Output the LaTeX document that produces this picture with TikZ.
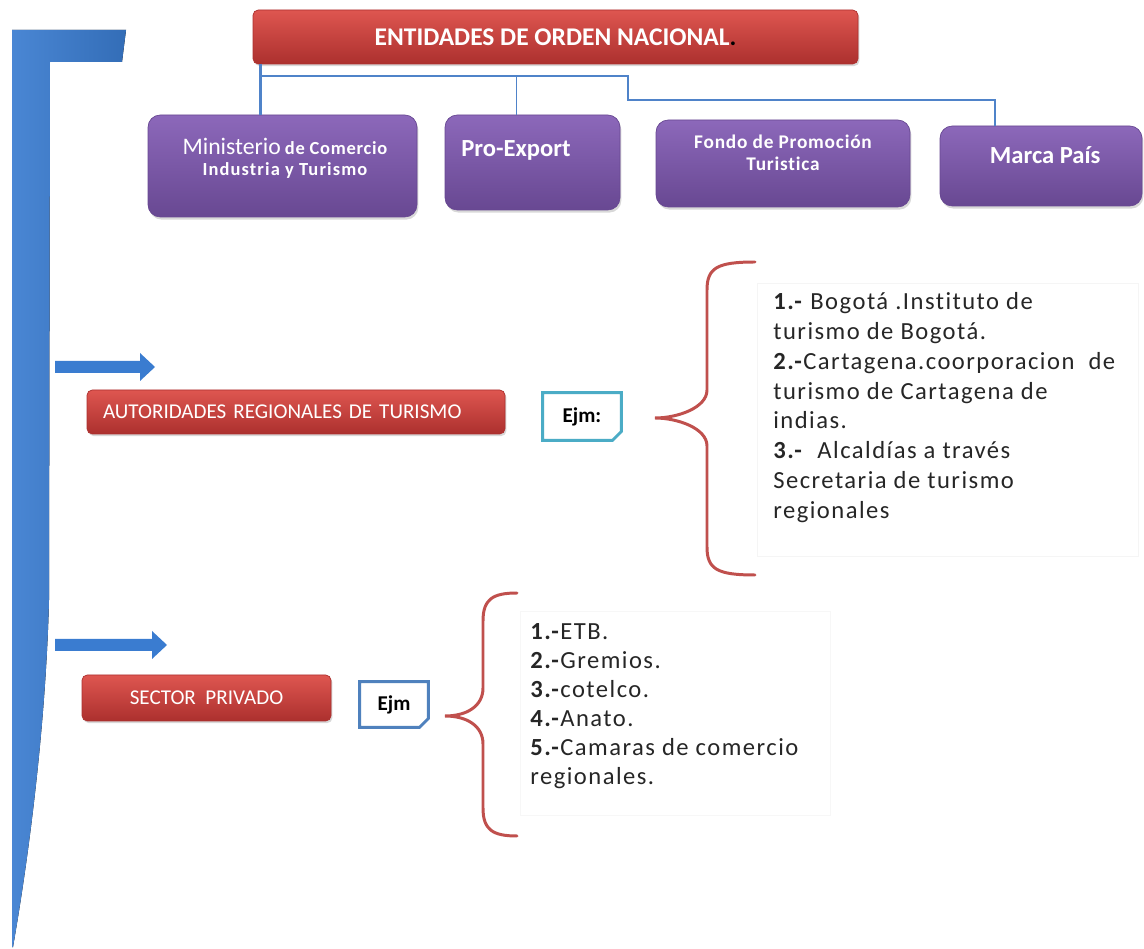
\documentclass[tikz,border=0pt]{standalone}
\usepackage{fontspec}
\setmainfont{Carlito}[Ligatures=NoCommon]
\newfontfamily\widefont[LetterSpace=6, Ligatures=NoCommon]{Carlito}
\newfontfamily\midfont[LetterSpace=4, Ligatures=NoCommon]{Carlito}
\usepackage{tikz}
\usetikzlibrary{calc, shadows}
\definecolor{barblue}{RGB}{58,124,208}
\definecolor{redtop}{RGB}{222,86,80}
\definecolor{redbot}{RGB}{172,48,46}
\definecolor{purtop}{RGB}{140,104,186}
\definecolor{purbot}{RGB}{104,72,146}
\definecolor{connblue}{RGB}{79,131,201}
\definecolor{bracered}{RGB}{192,80,77}
\definecolor{ejmcyan}{RGB}{75,172,198}
\definecolor{ejmblue}{RGB}{79,129,189}
\newcommand{\pxu}{0.02cm}

\begin{document}
\begin{tikzpicture}[x=0.02cm, y=-0.02cm,
  redbox/.style={rounded corners=3pt, top color=redtop, bottom color=redbot, draw=redbot, inner sep=0pt, text=white,
    drop shadow={opacity=0.3, shadow xshift=0.8pt, shadow yshift=-1.2pt}},
  purplebox/.style={rounded corners=7pt, top color=purtop, bottom color=purbot, draw=purbot, inner sep=0pt,
    drop shadow={opacity=0.3, shadow xshift=0.8pt, shadow yshift=-1.5pt}},
  purpletext/.style={text=white, font=\bfseries, align=center, inner sep=0pt},
  conn/.style={draw=connblue, line width=1.7pt},
  brace/.style={draw=bracered, line width=1.7pt, line cap=round},
  ejmline/.style={line width=1.6pt},
  listtext/.style={align=left, inner sep=0pt, anchor=north west, text=black!85}]
\useasboundingbox[fill=white] (0,0) rectangle (1144,949);

\fill[left color=barblue!92!white, right color=barblue!88!black] (12,30) -- (126,30) -- (122,62) -- (50,62) -- (49,600)
  .. controls (46,720) and (30,850) .. (13,947) -- (12,947) -- cycle;
\foreach \y/\xe in {367/155, 645/167}
  \fill[barblue] (55,\y-6) -- (\xe-15,\y-6) -- (\xe-15,\y-14) -- (\xe,\y) -- (\xe-15,\y+14) -- (\xe-15,\y+6) -- (55,\y+6) -- cycle;

\node[redbox, minimum width=605*\pxu, minimum height=54*\pxu, font=\bfseries\fontsize{14.5}{16}\selectfont] (orden) at (555.5,37)
  {ENTIDADES DE ORDEN NACIONAL\textcolor{black}{.}};

\node[purplebox, minimum width=269*\pxu, minimum height=102*\pxu] (mincit) at (282.5,166) {};
\node[purpletext] (mincit-t) at ([xshift=1.4pt, yshift=4.5pt]mincit.center)
  {{\mdseries\fontsize{13.5}{14}\selectfont Ministerio} {\midfont\fontsize{10.5}{13.6}\selectfont de Comercio}\\
   \widefont\fontsize{10.5}{13.6}\selectfont Industria y Turismo};
\node[purplebox, minimum width=175*\pxu, minimum height=95*\pxu] (proexp) at (532.5,162.5) {};
\node[purpletext, font=\bfseries\fontsize{14}{16}\selectfont] (proexp-t) at ([xshift=-9.4pt, yshift=7pt]proexp.center) {Pro-Export};
\node[purplebox, minimum width=254*\pxu, minimum height=87*\pxu] (fondo) at (783,163.5) {};
\node[purpletext, font=\midfont\bfseries\fontsize{11}{12.5}\selectfont] (fondo-t) at ([yshift=5.9pt]fondo.center) {Fondo de Promoción\\ Turistica};
\node[purplebox, minimum width=202*\pxu, minimum height=80*\pxu] (marca) at (1041,166) {};
\node[purpletext, font=\bfseries\fontsize{14}{16}\selectfont] (marca-t) at ([xshift=2.4pt, yshift=6.2pt]marca.center) {Marca País};

\coordinate (j0) at ($(orden.south west)+(8,0)$);
\draw[conn] (j0) -- (j0 |- mincit.north);
\draw[conn] (j0 |- 0,76) -- (628,76) -- (628,100) -| ($(marca.north)+(-46,0)$);
\draw[conn, line width=1pt] ($(proexp.north)+(-16,0)$) -- ++(0,-39);

\node[redbox, minimum width=418*\pxu, minimum height=44*\pxu, text width=386*\pxu, align=left,
  font=\fontsize{12}{13}\selectfont] (autoridades) at (296,412) {AUTORIDADES REGIONALES DE TURISMO};
\node[redbox, minimum width=249*\pxu, minimum height=46*\pxu, font=\fontsize{12}{13}\selectfont] (privado) at (206.5,698)
  {SECTOR\ \ PRIVADO};

\node[minimum width=78*\pxu, minimum height=47*\pxu, inner sep=0pt, font=\bfseries\fontsize{12}{14}\selectfont] (ejm1) at (582,416.5) {Ejm:};
\node[minimum width=68*\pxu, minimum height=45*\pxu, inner sep=0pt, font=\bfseries\fontsize{12}{14}\selectfont] (ejm2) at (394,704.5) {Ejm};
\draw[ejmline, draw=ejmcyan] (ejm1.north west) -- (ejm1.north east) -- ([yshift=5pt]ejm1.south east)
  -- ([xshift=-5pt]ejm1.south east) -- (ejm1.south west) -- cycle;
\draw[ejmline, draw=ejmblue] (ejm2.north west) -- (ejm2.north east) -- ([yshift=5pt]ejm2.south east)
  -- ([xshift=-5pt]ejm2.south east) -- (ejm2.south west) -- cycle;

\foreach \ex/\vx/\tx/\ty/\ta/\tb in {755/707/655/418/262/575, 517/483/445/716/593/836}
  \draw[brace] (\ex,\ta) .. controls (\vx+10,\ta) and (\vx,\ta+6) .. (\vx,\ta+28) -- (\vx,\ty-28)
    .. controls (\vx,\ty-10) and (\tx+22,\ty) .. (\tx,\ty) .. controls (\tx+22,\ty) and (\vx,\ty+10) .. (\vx,\ty+28)
    -- (\vx,\tb-28) .. controls (\vx,\tb-6) and (\vx+10,\tb) .. (\ex,\tb);

\draw[black!4] (757,283) rectangle (1138,556);
\draw[black!3] (520,611) rectangle (830,815);
\node[listtext, font=\widefont\fontsize{14}{17}\selectfont] (regiones) at (773,292)
  {\textbf{1.-} Bogotá .Instituto de\\ turismo de Bogotá.\\ \textbf{2.-}Cartagena.coorporacion\ \ de\\ turismo de Cartagena de\\
   indias.\\ \textbf{3.-}\ \ Alcaldías a través\\ Secretaria de turismo\\ regionales};
\node[listtext, font=\widefont\fontsize{14}{16.5}\selectfont] (privados) at (530,623)
  {\textbf{1.-}ETB.\\ \textbf{2.-}Gremios.\\ \textbf{3.-}cotelco.\\ \textbf{4.-}Anato.\\ \textbf{5.-}Camaras de comercio\\ regionales.};
\end{tikzpicture}
\end{document}
